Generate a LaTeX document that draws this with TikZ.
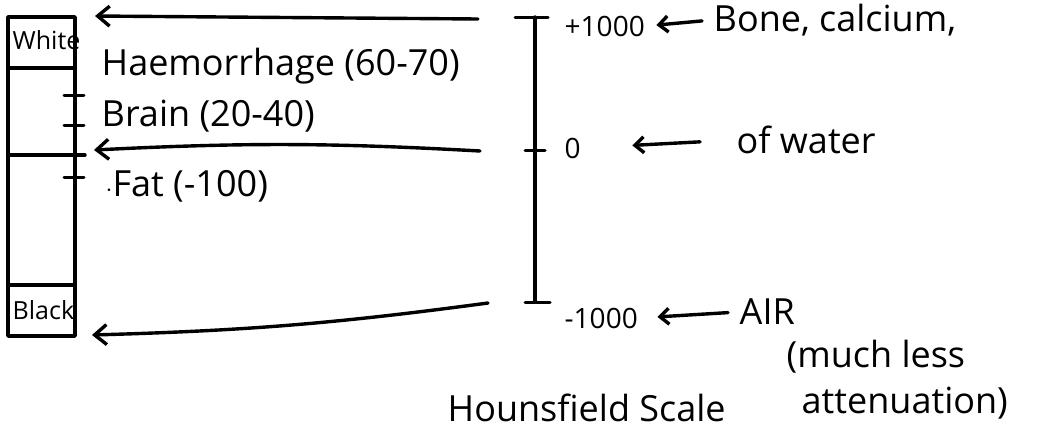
\documentclass[tikz,border=0pt]{standalone}
\usepackage{fontspec}
\setmainfont{Open Sans}
\usetikzlibrary{arrows.meta}
\begin{document}
\begin{tikzpicture}[x=1pt,y=-1pt,line width=3.4pt,line cap=round,line join=round,
  big/.style={anchor=west,inner sep=0pt,font=\fontsize{36}{40}\selectfont},
  num/.style={anchor=west,inner sep=0pt,font=\fontsize{28}{32}\selectfont},
  cell/.style={inner sep=0pt,font=\fontsize{25}{28}\selectfont},
  arr/.style={-{Straight Barb[length=12pt,width=20pt]}},
  sarr/.style={-{Straight Barb[length=9pt,width=16pt]},shorten >=10pt,shorten <=10pt},
  tickmark/.style={line width=3pt}]
\useasboundingbox (0,0) rectangle (1051,445);
% grey scale bar
\coordinate (bTL) at (8,17);
\coordinate (bBR) at (75,336);
\draw (bTL) rectangle (bBR);
\draw (8,68) -- (75,68);
\draw (8,155) -- (85,155);
\draw (8,285) -- (75,285);
\foreach \yy in {95,125,177} \draw[tickmark] (64,\yy) -- (84,\yy);
\node[cell,anchor=west] (white) at (11,40) {White};
\node[cell,anchor=west] (black) at (11,310) {Black};
% tissue labels
\node[big] (haem) at (100,66) {Haemorrhage (60-70)};
\node[big] (brain) at (100,116) {Brain (20-40)};
\node[big] (fat) at (104,186) {$\cdot$Fat (-100)};
% right scale
\coordinate (sTop) at (535,17);
\coordinate (sMid) at (535,150);
\coordinate (sBot) at (535,302);
\draw (sTop) -- (sBot);
\draw[tickmark] (515,17) -- (548,17);
\draw[tickmark] (525,150) -- (545,150);
\draw[tickmark] (525,302) -- (550,302);
% arrows from scale to bar
\coordinate (aTopS) at (478,19);
\coordinate (aTopE) at (95,16);
\coordinate (aMidS) at (480,151);
\coordinate (aMidE) at (94,150);
\coordinate (aBotS) at (488,303);
\coordinate (aBotE) at (92,335);
\draw[arr] (aTopS) -- (aTopE);
\draw[arr] (aMidS) to[bend right=3] (aMidE);
\draw[arr] (aBotS) to[bend left=3] (aBotE);
% scale labels
\node[num] (p1000) at (563,26) {+1000};
\node[big] (bone) at (712,20) {Bone, calcium,};
\draw[sarr] (bone.west) -- (p1000.east);
\node[num] (zero) at (563,148) {0};
\node[big] (water) at (735,140) {of water};
\draw[sarr,shorten <=35pt,shorten >=50pt] (water.west) -- (zero.east);
\node[num] (m1000) at (563,318) {-1000};
\node[big] (air) at (738,312) {AIR};
\draw[sarr,shorten >=18pt] (air.west) -- (m1000.east);
\node[big] (much) at (785,357) {(much less};
\node[big] (atten) at (800,403) {attenuation)};
\node[big] (hsc) at (446,408) {Hounsfield Scale};
\end{tikzpicture}
\end{document}
